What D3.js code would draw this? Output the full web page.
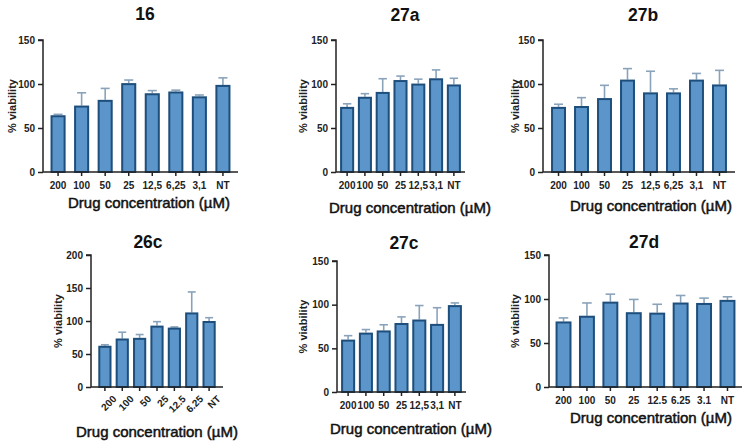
<!DOCTYPE html>
<html><head><meta charset="utf-8">
<script src="https://cdn.jsdelivr.net/npm/d3@7"></script>
<style>body{margin:0;background:#fff}svg{display:block}</style>
</head><body>
<svg id="c" width="755" height="448"></svg>
<script>
// ---- data ----
const titles = ["16", "27a", "27b", "26c", "27c", "27d"];
const cat16  = ["200", "100", "50", "25", "12,5", "6,25", "3,1", "NT"];
const cat27a = ["200", "100", "50", "25", "12,5", "3,1", "NT"];
const cat27b = ["200", "100", "50", "25", "12,5", "6,25", "3,1", "NT"];
const cat26c = ["200", "100", "50", "25", "12.5", "6.25", "NT"];
const cat27c = ["200", "100", "50", "25", "12,5", "3,1", "NT"];
const cat27d = ["200", "100", "50", "25", "12.5", "6.25", "3.1", "NT"];

const v16  = [64.5, 75.5, 82, 101, 89.5, 91.5, 86, 99];
const e16  = [1, 14.5, 13, 3.5, 3, 1.5, 1.5, 8];
const v27a = [74, 85.5, 91, 104.5, 100.5, 106.5, 99.5];
const e27a = [3.5, 3.5, 15, 4.5, 5, 9.5, 7];
const v27b = [74, 75, 84, 105, 90.5, 90.5, 105, 99.5];
const e27b = [3, 9.5, 14.5, 12.5, 24, 4, 7, 16];
const v26c = [62.5, 73.5, 74.5, 93, 90, 113, 100];
const e26c = [1.5, 9.5, 5, 6, 1, 31, 5];
const v27c = [60, 68, 70.5, 79, 83, 78, 99.5];
const e27c = [4.5, 3.5, 6.5, 7, 16, 18.5, 2.5];
const v27d = [74.5, 81, 97, 85, 84.5, 96, 95.5, 99];
const e27d = [4, 14.5, 8.5, 14.5, 9.5, 8, 5.5, 3.5];

const yTicks150 = [0, 50, 100, 150];
const yTicks200 = [0, 50, 100, 150, 200];
const xTitle = "Drug concentration (\u00B5M)";
const yTitle = "% viability";

// ---- layout (positions only) ----
const panels = [
  {t:titles[0], cats:cat16,  vals:v16,  errs:e16,  ticks:yTicks150, x0:43,  x1:238, y0:172, y1:40,  pi:0.36, po:0.32, tx:145, ty:20,  lx:149, ly:208, yx:12,  rot:false},
  {t:titles[1], cats:cat27a, vals:v27a, errs:e27a, ticks:yTicks150, x0:336, x1:465, y0:172, y1:40,  pi:0.21, po:0.23, tx:405, ty:20.5,lx:410, ly:213, yx:303, rot:false},
  {t:titles[2], cats:cat27b, vals:v27b, errs:e27b, ticks:yTicks150, x0:543, x1:735, y0:172, y1:40,  pi:0.35, po:0.35, tx:643, ty:20.5,lx:651, ly:211, yx:515, rot:false},
  {t:titles[3], cats:cat26c, vals:v26c, errs:e26c, ticks:yTicks200, x0:91,  x1:223, y0:387, y1:255, pi:0.24, po:0.42, tx:148, ty:248, lx:157, ly:437, yx:58,  rot:true},
  {t:titles[4], cats:cat27c, vals:v27c, errs:e27c, ticks:yTicks150, x0:337, x1:466, y0:392, y1:261, pi:0.21, po:0.23, tx:404, ty:249, lx:411, ly:434, yx:303, rot:false},
  {t:titles[5], cats:cat27d, vals:v27d, errs:e27d, ticks:yTicks150, x0:549, x1:742, y0:387, y1:255, pi:0.32, po:0.28, tx:644, ty:248, lx:651, ly:423, yx:515, rot:false}
];

const svg = d3.select("#c");
const FONT = "'Liberation Sans', Arial, sans-serif";
const fill = "#5b95c9", stroke = "#1d4e7c", errC = "#8aa3bb", axC = "#222";

panels.forEach(p => {
  const g = svg.append("g");
  const x = d3.scaleBand().domain(p.cats).range([p.x0, p.x1]).paddingInner(p.pi).paddingOuter(p.po);
  const y = d3.scaleLinear().domain([0, d3.max(p.ticks)]).range([p.y0, p.y1]);

  // title
  g.append("text").attr("x", p.tx).attr("y", p.ty).attr("text-anchor", "middle")
    .attr("font-family", FONT).attr("font-weight", "bold").attr("font-size", 17.5).attr("fill", "#111").text(p.t);

  // error bars (upper only)
  const cap = x.bandwidth() * 0.3;
  p.cats.forEach((c, i) => {
    const cx = x(c) + x.bandwidth() / 2;
    g.append("line").attr("x1", cx).attr("x2", cx).attr("y1", y(p.vals[i])).attr("y2", y(p.vals[i] + p.errs[i]))
      .attr("stroke", errC).attr("stroke-width", 1.6);
    g.append("line").attr("x1", cx - cap).attr("x2", cx + cap).attr("y1", y(p.vals[i] + p.errs[i])).attr("y2", y(p.vals[i] + p.errs[i]))
      .attr("stroke", errC).attr("stroke-width", 1.6);
  });

  // bars
  g.selectAll("rect").data(p.vals).join("rect")
    .attr("x", (d, i) => x(p.cats[i]) + 1)
    .attr("width", x.bandwidth() - 2)
    .attr("y", d => y(d) + 1)
    .attr("height", d => y(0) - y(d) - 1)
    .attr("fill", fill).attr("stroke", stroke).attr("stroke-width", 2);

  // y axis
  const ya = g.append("g").attr("transform", `translate(${p.x0},0)`)
    .call(d3.axisLeft(y).tickValues(p.ticks).tickSize(5).tickPadding(3).tickFormat(d3.format("d")));
  ya.select(".domain").attr("stroke", axC).attr("stroke-width", 1.5).attr("d", `M-5,${p.y1}H0V${p.y0}`);
  ya.selectAll(".tick line").attr("stroke", axC).attr("stroke-width", 1.5);
  ya.selectAll("text").attr("font-family", FONT).attr("font-weight", "bold").attr("font-size", 10).attr("fill", "#222");

  // x axis
  const xa = g.append("g").attr("transform", `translate(0,${p.y0})`)
    .call(d3.axisBottom(x).tickSize(4).tickPadding(p.rot ? 4 : 6));
  xa.select(".domain").attr("stroke", axC).attr("stroke-width", 1.5).attr("d", `M${p.x0},0H${p.x1}`);
  xa.selectAll(".tick line").attr("stroke", axC).attr("stroke-width", 1.5);
  const xt = xa.selectAll("text").attr("font-family", FONT).attr("font-weight", "bold").attr("font-size", 10).attr("fill", "#222");
  if (p.rot) {
    xt.attr("text-anchor", "end").attr("dy", "0.6em").attr("dx", "-0.1em").attr("transform", "translate(3,2) rotate(-45)");
  }

  // axis titles
  g.append("text").attr("x", p.lx).attr("y", p.ly).attr("text-anchor", "middle")
    .attr("font-family", FONT).attr("font-size", 15).attr("fill", "#111")
    .attr("stroke", "#111").attr("stroke-width", 0.5).text(xTitle);
  g.append("text").attr("transform", `translate(${p.yx + 4},${(p.y0 + p.y1) / 2}) rotate(-90)`)
    .attr("text-anchor", "middle").attr("font-family", FONT).attr("font-weight", "bold").attr("font-size", 11)
    .attr("fill", "#222").text(yTitle);
});
</script>
</body></html>
